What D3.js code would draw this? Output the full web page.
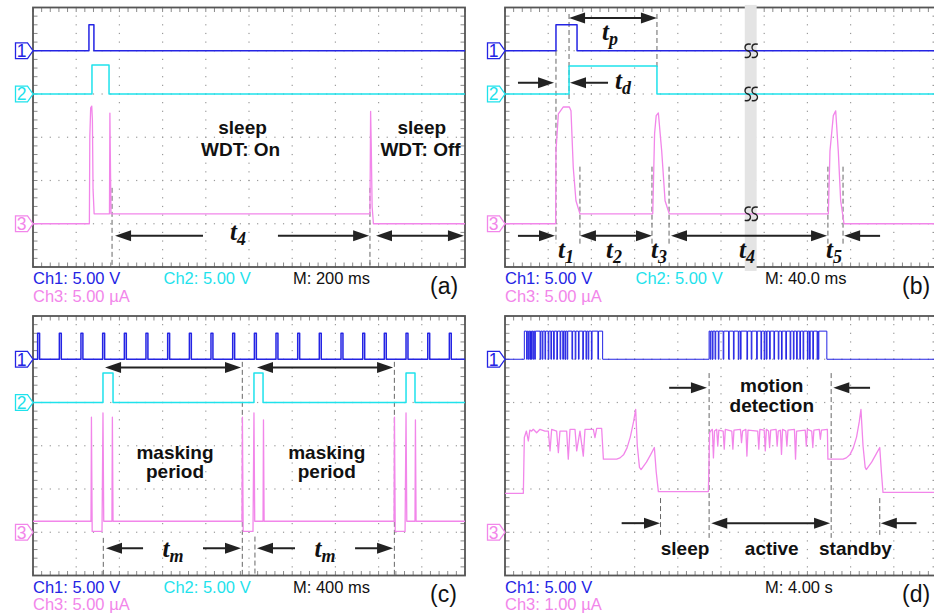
<!DOCTYPE html>
<html>
<head>
<meta charset="utf-8">
<script src="https://cdn.jsdelivr.net/npm/d3@7"></script>
<style>body{margin:0;background:#fff}</style>
</head>
<body>
<script>
var svgWidth = 934;
var svgHeight = 615;
var panelW = 432;
var panelH = 259.5;

var colCh1 = "#2424e4";
var colCh2 = "#1fe2ec";
var colCh3 = "#f286ea";

// ---------- data (a) : M 200 ms, Ch1/Ch2 in V, Ch3 in uA ----------
var aCh1 = [[0,0],[259,0],[259,3.0],[282,3.0],[282,0],[2000,0]];
var aCh2 = [[0,0],[273,0],[273,3.35],[352,3.35],[352,0],[2000,0]];
var aCh3 = [[0,0],[261,0],[263,10],[267,13.4],[272,13.6],[275,12],[278,4],[283,1.15],[354,1.15],[356,12.8],[358,8],[361,1.15],
            [1560,1.15],[1563,13.0],[1566,9],[1570,2],[1576,0],[2000,0]];

// ---------- data (b) : M 40 ms ----------
var bCh1 = [[0,0],[47.2,0],[47.2,3.0],[66.7,3.0],[66.7,0],[400,0]];
var bCh2 = [[0,0],[59.3,0],[59.3,3.25],[140.7,3.25],[140.7,0],[400,0]];
var bCh3 = [[0,0],[46.9,0],[47.2,8.4],[49.4,12.7],[54,13.5],[59.6,13.5],[61.1,13.05],[63.2,6.5],[65.7,2.66],[69.4,1.15],
            [136.8,1.15],[138.5,10.4],[140,12.5],[142,12.8],[145.1,8.4],[148.2,2.66],[152.1,1.15],
            [299.4,1.15],[300.9,8.4],[304,12.5],[306.2,13.05],[308.6,8.4],[310.8,2.66],[313.9,0],[400,0]];

// ---------- data (c) : M 400 ms ----------
var cCh1Pulses = [43,244,444,645,846,1046,1247,1448,1648,1849,2050,2250,2451,2651,2852,3053,3253,3454,3655,3855];
var cCh1High = 3.0;
var cCh2 = [[0,0],[648,0],[648,3.4],[741,3.4],[741,0],[2046,0],[2046,3.4],[2130,3.4],[2130,0],
            [3454,0],[3454,3.4],[3537,3.4],[3537,0],[4000,0]];
var cCh3 = [[0,1.27],[537,1.27],[541,13.3],[548,0.1],[639,0.1],[648,13.8],[655,1.27],[731,1.27],[735,13.3],[741,1.27],
            [1935,1.27],[1939,13.3],[1946,0.1],[2037,0.1],[2046,13.8],[2053,1.27],[2130,1.27],[2134,13.0],[2140,1.27],
            [3343,1.27],[3347,13.3],[3354,0.1],[3445,0.1],[3454,13.8],[3461,1.27],[3537,1.27],[3541,13.0],[3547,1.27],[4000,1.27]];

// ---------- data (d) : M 4 s ----------
var dCh1Bursts = [[1.79, 9.04], [18.9, 29.8]];
var dCh1High = 3.25;
var dCh1Dips = [2.0,2.15,2.3,2.45,2.6,2.75,3.25,3.45,3.7,4.0,4.25,4.5,4.8,5.1,5.35,5.55,5.75,6.2,6.5,6.8,7.2,7.5,7.7,8.0,8.6,
                19.0,19.2,19.45,19.75,20.2,20.7,21.15,21.6,21.8,22.4,22.8,23.3,23.7,24.0,24.2,24.5,24.9,25.3,25.6,26.0,
                26.4,26.7,27.0,27.3,27.6,28.0,28.2,28.5,28.9,29.0];
var dCh3 = [[0,0.9],[1.70,0.9],[1.79,2.19],[1.98,2.34],[2.16,2.11],[2.3,2.36],[2.47,2.34],[2.62,2.38],[2.93,2.30],[3.24,2.38],
            [3.70,2.34],[4.01,2.34],[4.17,1.88],[4.32,2.38],[4.78,2.34],[4.94,1.84],[5.09,2.34],[5.71,2.34],[5.86,1.69],
            [6.02,2.38],[6.48,2.38],[6.64,1.88],[6.94,2.34],[7.25,1.76],[7.41,2.38],[8.18,2.38],[8.33,2.19],[8.49,2.40],
            [8.95,2.40],[9.11,1.69],[10.34,1.69],[10.65,1.72],[11.0,1.8],[11.3,1.95],[11.6,2.2],[11.9,2.55],[12.1,2.84],
            [12.25,2.0],[12.45,1.5],[12.6,1.45],[13.1,1.62],[13.5,1.8],[13.83,1.96],[14.0,1.4],[14.2,0.94],[18.83,0.94],
            [18.95,2.3],[19.1,2.36],[19.2,2.38],[19.3,1.72],[19.4,2.34],[19.6,2.38],[19.7,1.99],[19.8,2.36],[20.2,2.34],
            [20.3,1.92],[20.4,2.38],[21.0,2.34],[21.1,1.92],[21.2,2.36],[21.8,2.38],[21.9,2.07],[22.0,2.34],[22.3,2.38],
            [22.4,1.76],[22.5,2.36],[23.4,2.34],[23.5,1.92],[23.6,2.38],[24.0,2.36],[24.1,1.88],[24.2,2.38],[24.4,2.34],
            [24.5,1.96],[24.6,2.36],[25.1,2.38],[25.2,1.99],[25.3,2.34],[25.5,2.36],[25.6,1.80],[25.7,2.38],[26.0,2.34],
            [26.1,1.99],[26.2,2.36],[26.8,2.38],[26.9,1.69],[27.0,2.34],[27.8,2.36],[27.9,1.99],[28.0,2.38],[28.4,2.34],
            [28.5,1.96],[28.6,2.36],[29.1,2.38],[29.2,2.15],[29.3,2.36],[29.85,2.38],[29.9,1.69],[31.3,1.69],[31.6,1.72],
            [31.95,1.8],[32.25,1.95],[32.55,2.2],[32.8,2.55],[32.96,2.84],[33.15,2.0],[33.35,1.5],[33.45,1.45],[33.95,1.62],
            [34.35,1.8],[34.7,1.96],[34.85,1.4],[35.0,0.92],[40,0.92]];

// ---------- annotations: [t, div] ----------
var aDashes = [[366,4.17,6],[1560,4.17,6]];
var aArrows = [[787,380,5.28,"end"],[1134,1556,5.28,"end"],[1588,1995,5.28,"both"]];
var aWords = [["sleep",970,2.92],["WDT: On",961,3.43],["sleep",1800,2.92],["WDT: Off",1794,3.43]];
var aTimes = [["4",949,5.38]];

var bDashes = [[47.2,1.0,5.45],[59.3,0.15,2.2],[140.7,0.15,1.4],[69.4,3.68,5.49],[136.1,3.68,5.49],[151.9,3.68,5.49],[299,3.68,5.49],[313,3.68,5.49]];
var bArrows = [[59.3,140.7,0.24,"both"],[12,45.4,1.74,"end"],[95.4,60.2,1.74,"end"],[12,46.3,5.28,"end"],
               [69.4,136.1,5.28,"both"],[153.7,298.2,5.28,"both"],[347.3,314,5.28,"end"]];
var bTimes = [["p",97.2,0.75],["d",109.3,1.89],["1",56.5,5.79],["2",101,5.79],["3",142.6,5.79],["4",224,5.79],["5",304.7,5.79]];
var bBreak = [222, 233];
var bBreakMarks = [[228,1],[228,2],[228,4.77]];

var cDashes = [[651,5.13,6],[1938,1.06,6],[2055,5.1,6],[3346,1.06,6]];
var cArrows = [[667,1926,1.19,"both"],[2074,3334,1.19,"both"],[1019,676,5.37,"end"],[1574,1926,5.37,"end"],
               [2426,2074,5.37,"end"],[2982,3334,5.37,"end"]];
var cWords = [["masking",1315,3.31],["period",1315,3.75],["masking",2720,3.31],["period",2720,3.75]];
var cTimes = [["m",1296,5.57],["m",2704,5.57]];

var dDashes = [[18.9,1.32,5.13],[30.2,1.32,5.13],[14.4,4.21,5.06],[34.7,4.21,5.06]];
var dArrows = [[15.2,18.7,1.66,"end"],[33.8,30.4,1.66,"end"],[10.8,14.35,4.79,"end"],[19.1,30.1,4.79,"both"],[38.1,34.8,4.79,"end"]];
var dWords = [["motion",24.7,1.76],["detection",24.7,2.22],["sleep",16.67,5.53],["active",24.7,5.53],["standby",32.45,5.53]];

// build step traces from pulse lists
function pulseTrain(starts, width, high, tEnd) {
  var pts = [[0,0]];
  starts.forEach(function(t) { pts.push([t,0],[t,high],[t+width,high],[t+width,0]); });
  pts.push([tEnd,0]);
  return pts;
}
function burstTrain(bursts, dips, high, tEnd) {
  var pts = [[0,0]];
  bursts.forEach(function(b) {
    pts.push([b[0],0],[b[0],high]);
    dips.filter(function(d) { return d > b[0] && d < b[1]; }).forEach(function(d) {
      pts.push([d,high],[d,0],[d+0.06,0],[d+0.06,high]);
    });
    pts.push([b[1],high],[b[1],0]);
  });
  pts.push([tEnd,0]);
  return pts;
}

var panels = [
  {left:33, top:7.5, tdiv:200, letter:"(a)", time:"M: 200 ms",
   ch:[{n:"1",off:1,vdiv:5,color:colCh1,data:aCh1,label:"Ch1: 5.00 V"},
       {n:"2",off:2,vdiv:5,color:colCh2,data:aCh2,label:"Ch2: 5.00 V"},
       {n:"3",off:5,vdiv:5,color:colCh3,data:aCh3,label:"Ch3: 5.00 \u00b5A"}],
   dashes:aDashes, arrows:aArrows, words:aWords, times:aTimes},
  {left:505, top:7.5, tdiv:40, letter:"(b)", time:"M: 40.0 ms",
   ch:[{n:"1",off:1,vdiv:5,color:colCh1,data:bCh1,label:"Ch1: 5.00 V"},
       {n:"2",off:2,vdiv:5,color:colCh2,data:bCh2,label:"Ch2: 5.00 V"},
       {n:"3",off:5,vdiv:5,color:colCh3,data:bCh3,label:"Ch3: 5.00 \u00b5A"}],
   dashes:bDashes, arrows:bArrows, words:[], times:bTimes, brk:bBreak, brkMarks:bBreakMarks},
  {left:33, top:316, tdiv:400, letter:"(c)", time:"M: 400 ms",
   ch:[{n:"1",off:1,vdiv:5,color:colCh1,data:pulseTrain(cCh1Pulses,18,cCh1High,4000),label:"Ch1: 5.00 V"},
       {n:"2",off:2,vdiv:5,color:colCh2,data:cCh2,label:"Ch2: 5.00 V"},
       {n:"3",off:5,vdiv:5,color:colCh3,data:cCh3,label:"Ch3: 5.00 \u00b5A"}],
   dashes:cDashes, arrows:cArrows, words:cWords, times:cTimes},
  {left:505, top:316, tdiv:4, letter:"(d)", time:"M: 4.00 s",
   ch:[{n:"1",off:1,vdiv:5,color:colCh1,data:burstTrain(dCh1Bursts,dCh1Dips,dCh1High,40),label:"Ch1: 5.00 V",thin:true},
       {n:"3",off:5,vdiv:1,color:colCh3,data:dCh3,label:"Ch3: 1.00 \u00b5A"}],
   dashes:dDashes, arrows:dArrows, words:dWords, times:[]}
];

var svg = d3.select("body").append("svg")
  .attr("width", svgWidth)
  .attr("height", svgHeight)
  .style("font-family", "'Liberation Sans', Arial, sans-serif");

svg.append("rect").attr("width", svgWidth).attr("height", svgHeight).attr("fill", "#fff");

function drawArrow(g, xa, xb, yy, heads) {
  var hl = 16, hw = 5.5;
  var dir = xb > xa ? 1 : -1;
  var x1 = heads === "both" ? xa + dir * hl * 0.7 : xa;
  var x2 = xb - dir * hl * 0.7;
  g.append("line").attr("x1", x1).attr("x2", x2).attr("y1", yy).attr("y2", yy)
    .attr("stroke", "#222").attr("stroke-width", 2);
  g.append("path").attr("d", "M" + xb + "," + yy + "L" + (xb - dir*hl) + "," + (yy - hw) + "L" + (xb - dir*hl) + "," + (yy + hw) + "Z")
    .attr("fill", "#222");
  if (heads === "both") {
    g.append("path").attr("d", "M" + xa + "," + yy + "L" + (xa + dir*hl) + "," + (yy - hw) + "L" + (xa + dir*hl) + "," + (yy + hw) + "Z")
      .attr("fill", "#222");
  }
}

panels.forEach(function(p) {
  var g = svg.append("g");
  var xDiv = d3.scaleLinear().domain([0, 10]).range([p.left, p.left + panelW]);
  var yDiv = d3.scaleLinear().domain([0, 6]).range([p.top, p.top + panelH]);
  var xT = d3.scaleLinear().domain([0, 10 * p.tdiv]).range([p.left, p.left + panelW]);

  var minorX = d3.range(0, 51).map(function(k) { return k / 5; });
  var minorY = d3.range(0, 31).map(function(k) { return k / 5; });

  // dotted graticule
  var dots = g.append("g").attr("fill", "#9a9a9a");
  d3.range(1, 10).forEach(function(i) {
    minorY.forEach(function(j) {
      dots.append("rect").attr("x", xDiv(i) - 0.6).attr("y", yDiv(j) - 0.6).attr("width", 1.2).attr("height", 1.2);
    });
  });
  d3.range(1, 6).forEach(function(j) {
    minorX.forEach(function(i) {
      dots.append("rect").attr("x", xDiv(i) - 0.6).attr("y", yDiv(j) - 0.6).attr("width", 1.2).attr("height", 1.2);
    });
  });

  // edge ticks
  var ticks = g.append("g").attr("stroke", "#8a8a8a").attr("stroke-width", 1);
  minorX.forEach(function(i) {
    ticks.append("line").attr("x1", xDiv(i)).attr("x2", xDiv(i)).attr("y1", p.top).attr("y2", p.top + 4.5);
    ticks.append("line").attr("x1", xDiv(i)).attr("x2", xDiv(i)).attr("y1", p.top + panelH).attr("y2", p.top + panelH - 4.5);
  });
  minorY.forEach(function(j) {
    ticks.append("line").attr("y1", yDiv(j)).attr("y2", yDiv(j)).attr("x1", p.left).attr("x2", p.left + 4.5);
    ticks.append("line").attr("y1", yDiv(j)).attr("y2", yDiv(j)).attr("x1", p.left + panelW).attr("x2", p.left + panelW - 4.5);
  });

  g.append("rect").attr("x", p.left).attr("y", p.top).attr("width", panelW).attr("height", panelH)
    .attr("fill", "none").attr("stroke", "#555").attr("stroke-width", 1.8);

  // time break band
  if (p.brk) {
    g.append("rect").attr("x", xT(p.brk[0])).attr("y", yDiv(-0.06))
      .attr("width", xT(p.brk[1]) - xT(p.brk[0])).attr("height", yDiv(6.09) - yDiv(-0.06))
      .attr("fill", "#e4e4e4");
  }

  // dashed guides
  p.dashes.forEach(function(d) {
    g.append("line").attr("x1", xT(d[0])).attr("x2", xT(d[0])).attr("y1", yDiv(d[1])).attr("y2", yDiv(d[2]))
      .attr("stroke", "#666").attr("stroke-width", 1).attr("stroke-dasharray", "5,3");
  });

  // traces
  p.ch.forEach(function(c) {
    var line = d3.line()
      .x(function(d) { return xT(d[0]); })
      .y(function(d) { return yDiv(c.off - d[1] / c.vdiv); });
    g.append("path").datum(c.data).attr("d", line)
      .attr("fill", "none").attr("stroke", c.color)
      .attr("stroke-width", c.thin ? 1 : (c.n === "3" ? 1.3 : 1.5)).attr("stroke-linejoin", "round");

    // channel marker
    var yc = yDiv(c.off), xl = p.left;
    g.append("path")
      .attr("d", "M" + (xl - 17.5) + "," + (yc - 7.8) + "H" + (xl - 5.5) + "L" + xl + "," + yc + "L" + (xl - 5.5) + "," + (yc + 7.8) + "H" + (xl - 17.5) + "Z")
      .attr("fill", "#fff").attr("stroke", c.color).attr("stroke-width", 1.3);
    g.append("text").attr("x", xl - 11.5).attr("y", yc + 6.3).attr("text-anchor", "middle")
      .attr("font-size", 17.5).attr("fill", c.color).text(c.n);
  });

  // break marks
  if (p.brkMarks) {
    p.brkMarks.forEach(function(m) {
      var cx = xT(m[0]), cy = yDiv(m[1]);
      [-3.5, 3.5].forEach(function(o) {
        var x = cx + o;
        g.append("path")
          .attr("d", "M" + (x + 3) + "," + (cy - 6.5) + "C" + (x - 4) + "," + (cy - 8) + " " + (x - 4) + "," + (cy - 1) + " " + x + "," + cy +
                     "C" + (x + 4) + "," + (cy + 1) + " " + (x + 4) + "," + (cy + 8) + " " + (x - 3) + "," + (cy + 6.5))
          .attr("fill", "none").attr("stroke", "#222").attr("stroke-width", 1.4);
      });
    });
  }

  // arrows
  p.arrows.forEach(function(a) { drawArrow(g, xT(a[0]), xT(a[1]), yDiv(a[2]), a[3]); });

  // bold words
  p.words.forEach(function(w) {
    g.append("text").attr("x", xT(w[1])).attr("y", yDiv(w[2])).attr("text-anchor", "middle")
      .attr("font-size", 19).attr("font-weight", "bold").attr("fill", "#111").text(w[0]);
  });

  // time labels t_x
  p.times.forEach(function(t) {
    var tx = g.append("text").attr("x", xT(t[1])).attr("y", yDiv(t[2])).attr("text-anchor", "middle")
      .attr("font-family", "'Liberation Serif', 'Times New Roman', serif")
      .attr("font-weight", "bold").attr("font-style", "italic").attr("font-size", 25).attr("fill", "#111");
    tx.append("tspan").text("t");
    tx.append("tspan").attr("dy", 5).attr("font-size", 18).text(t[0]);
  });

  // footer readouts
  var row1 = p.top + 276.5, row2 = p.top + 294;
  var c1 = p.ch[0], c3 = p.ch[p.ch.length - 1];
  g.append("text").attr("x", p.left).attr("y", row1).attr("font-size", 16.5).attr("fill", c1.color).text(c1.label);
  if (p.ch.length === 3) {
    g.append("text").attr("x", p.left + 130.5).attr("y", row1).attr("font-size", 16.5).attr("fill", p.ch[1].color).text(p.ch[1].label);
  }
  g.append("text").attr("x", p.left + 260).attr("y", row1).attr("font-size", 16.5).attr("fill", "#111").text(p.time);
  g.append("text").attr("x", p.left).attr("y", row2).attr("font-size", 16.5).attr("fill", c3.color).text(c3.label);
  g.append("text").attr("x", p.left + 397).attr("y", p.top + 286).attr("font-size", 23).attr("fill", "#111").text(p.letter);
});
</script>
</body>
</html>
